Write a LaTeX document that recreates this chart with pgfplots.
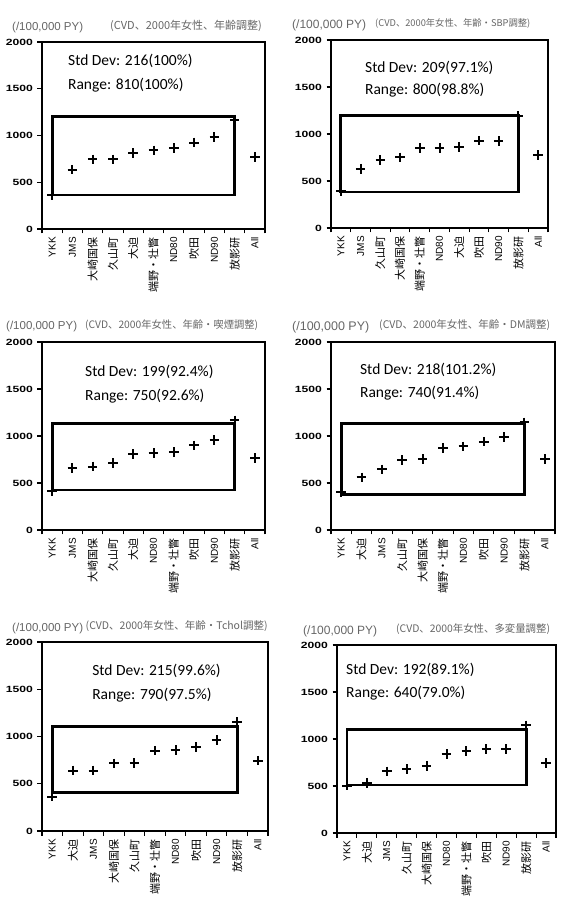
\documentclass[border=0pt]{standalone}
\usepackage{fontspec}
\setmainfont{Liberation Sans}
\newfontfamily\cjk{Noto Sans CJK JP}
\newfontfamily\calib{Carlito}
\usepackage{graphicx}
\usepackage{pgfplots}
\pgfplotsset{compat=1.18}

\newcommand{\J}[1]{{\cjk\fontsize{11}{12}\selectfont #1}}
\newcommand{\unitlab}{(/100,000 PY)}
\pgfplotsset{panel/.style={
  scale only axis, anchor=south west,
  xmin=-0.5, xmax=10.5, ymin=0, ymax=2000,
  xtick={-0.5,0.5,...,10.5}, x tick label as interval,
  ytick={0,500,...,2000},
  major tick length=4.5pt,
  tick align=outside, tick pos=left,
  major tick style={black, line width=1.1pt},
  axis line style={black, line width=1.4pt},
  x tick label style={rotate=90, anchor=east, font=\fontsize{10}{11}\selectfont},
  /pgf/number format/assume math mode=true,
  yticklabel={\scalebox{1.35}[1]{\bfseries\pgfmathprintnumber[set thousands separator={}]{\tick}}},
  y tick label style={font=\fontsize{9}{10}\selectfont\bfseries, xshift=-1pt},
  clip=false,
}}
\tikzset{rbox/.style={line width=2.8pt, black},
  sd/.style={anchor=west, font=\calib\fontsize{15.5}{17}\selectfont, inner sep=0pt},
  ttl/.style={anchor=west, text=black!60, inner sep=0pt},
  pmarks/.style={only marks, mark=+, mark size=4.8pt, black, mark options={line width=2pt}}}

\begin{document}
\begin{tikzpicture}
\useasboundingbox (0,0) rectangle (577pt,907pt);

% ---------- Panel 1 ----------
\begin{axis}[panel, at={(42pt,678pt)}, width=223pt, height=187pt,
  xticklabels={YKK,JMS,\J{大崎国保},\J{久山町},\J{大迫},\J{端野・壮瞥},ND80,\J{吹田},ND90,\J{放影研},All}]
\addplot[pmarks] coordinates {(0,360) (1,635) (2,745) (3,745) (4,810) (5,840) (6,865) (7,925) (8,985) (9,1170) (10,770)};
\draw[rbox] (axis cs:0,364) rectangle (axis cs:9,1203);
\node[sd] at (axis cs:0.78,1800) {Std Dev: 216(100\%)};
\node[sd] at (axis cs:0.78,1540) {Range: 810(100\%)};
\end{axis}
\node[ttl, font=\fontsize{11.5}{12}\selectfont] at (12pt,879pt) {\unitlab};
\node[ttl, font=\cjk\fontsize{11}{12}\selectfont] at (110pt,881pt) {(CVD、2000年女性、年齢調整)};

% ---------- Panel 2 ----------
\begin{axis}[panel, at={(331pt,679pt)}, width=217pt, height=188pt,
  xticklabels={YKK,JMS,\J{久山町},\J{大崎国保},\J{端野・壮瞥},ND80,\J{大迫},\J{吹田},ND90,\J{放影研},All}]
\addplot[pmarks] coordinates {(0,390) (1,630) (2,725) (3,750) (4,850) (5,850) (6,860) (7,930) (8,925) (9,1190) (10,775)};
\draw[rbox] (axis cs:0,382) rectangle (axis cs:9,1193);
\node[sd] at (axis cs:1.22,1700) {Std Dev: 209(97.1\%)};
\node[sd] at (axis cs:1.22,1462) {Range: 800(98.8\%)};
\end{axis}
\node[ttl, font=\fontsize{12}{12}\selectfont] at (292pt,882pt) {\unitlab};
\node[ttl, font=\cjk\fontsize{9.3}{12}\selectfont] at (375pt,884pt) {(CVD、2000年女性、年齢・SBP調整)};

% ---------- Panel 3 ----------
\begin{axis}[panel, at={(42pt,377pt)}, width=223pt, height=188pt,
  xticklabels={YKK,JMS,\J{大崎国保},\J{久山町},\J{大迫},ND80,\J{端野・壮瞥},\J{吹田},ND90,\J{放影研},All}]
\addplot[pmarks] coordinates {(0,410) (1,660) (2,675) (3,710) (4,810) (5,820) (6,830) (7,900) (8,955) (9,1165) (10,765)};
\draw[rbox] (axis cs:0,426) rectangle (axis cs:9,1137);
\node[sd] at (axis cs:1.62,1687) {Std Dev: 199(92.4\%)};
\node[sd] at (axis cs:1.62,1421) {Range: 750(92.6\%)};
\end{axis}
\node[ttl, font=\fontsize{11.5}{12}\selectfont] at (6pt,580pt) {\unitlab};
\node[ttl, font=\cjk\fontsize{10.3}{12}\selectfont] at (85pt,582pt) {(CVD、2000年女性、年齢・喫煙調整)};

% ---------- Panel 4 ----------
\begin{axis}[panel, at={(331pt,377pt)}, width=224pt, height=188pt,
  xticklabels={YKK,\J{大迫},JMS,\J{久山町},\J{大崎国保},\J{端野・壮瞥},ND80,\J{吹田},ND90,\J{放影研},All}]
\addplot[pmarks] coordinates {(0,405) (1,560) (2,645) (3,745) (4,755) (5,875) (6,890) (7,940) (8,990) (9,1145) (10,755)};
\draw[rbox] (axis cs:0,379) rectangle (axis cs:9,1131);
\node[sd] at (axis cs:0.92,1699) {Std Dev: 218(101.2\%)};
\node[sd] at (axis cs:0.92,1451) {Range: 740(91.4\%)};
\end{axis}
\node[ttl, font=\fontsize{12.5}{12}\selectfont] at (292pt,580pt) {\unitlab};
\node[ttl, font=\cjk\fontsize{10.5}{12}\selectfont] at (379pt,582pt) {(CVD、2000年女性、年齢・DM調整)};

% ---------- Panel 5 ----------
\begin{axis}[panel, at={(42pt,76pt)}, width=226pt, height=189pt,
  xticklabels={YKK,\J{大迫},JMS,\J{大崎国保},\J{久山町},\J{端野・壮瞥},ND80,\J{吹田},ND90,\J{放影研},All}]
\addplot[pmarks] coordinates {(0,365) (1,640) (2,640) (3,715) (4,720) (5,850) (6,855) (7,890) (8,960) (9,1155) (10,745)};
\draw[rbox] (axis cs:0,405) rectangle (axis cs:9,1102);
\node[sd] at (axis cs:1.94,1694) {Std Dev: 215(99.6\%)};
\node[sd] at (axis cs:1.94,1437) {Range: 790(97.5\%)};
\end{axis}
\node[ttl, font=\fontsize{11.5}{12}\selectfont] at (12pt,278pt) {\unitlab};
\node[ttl, font=\cjk\fontsize{10.5}{12}\selectfont, fill=white, inner sep=0.5pt] at (85pt,281pt) {(CVD、2000年女性、年齢・Tchol調整)};

% ---------- Panel 6 ----------
\begin{axis}[panel, at={(337pt,74pt)}, width=219pt, height=188pt,
  xticklabels={YKK,\J{大迫},JMS,\J{久山町},\J{大崎国保},ND80,\J{端野・壮瞥},\J{吹田},ND90,\J{放影研},All}]
\addplot[pmarks] coordinates {(0,505) (1,535) (2,655) (3,680) (4,715) (5,840) (6,870) (7,895) (8,895) (9,1145) (10,745)};
\draw[rbox] (axis cs:0,510) rectangle (axis cs:9,1104);
\node[sd] at (axis cs:-0.05,1734) {Std Dev: 192(89.1\%)};
\node[sd] at (axis cs:-0.05,1487) {Range: 640(79.0\%)};
\end{axis}
\node[ttl, font=\fontsize{12}{12}\selectfont] at (303pt,276pt) {\unitlab};
\node[ttl, font=\cjk\fontsize{10.4}{12}\selectfont] at (396pt,278pt) {(CVD、2000年女性、多変量調整)};
\end{tikzpicture}
\end{document}
